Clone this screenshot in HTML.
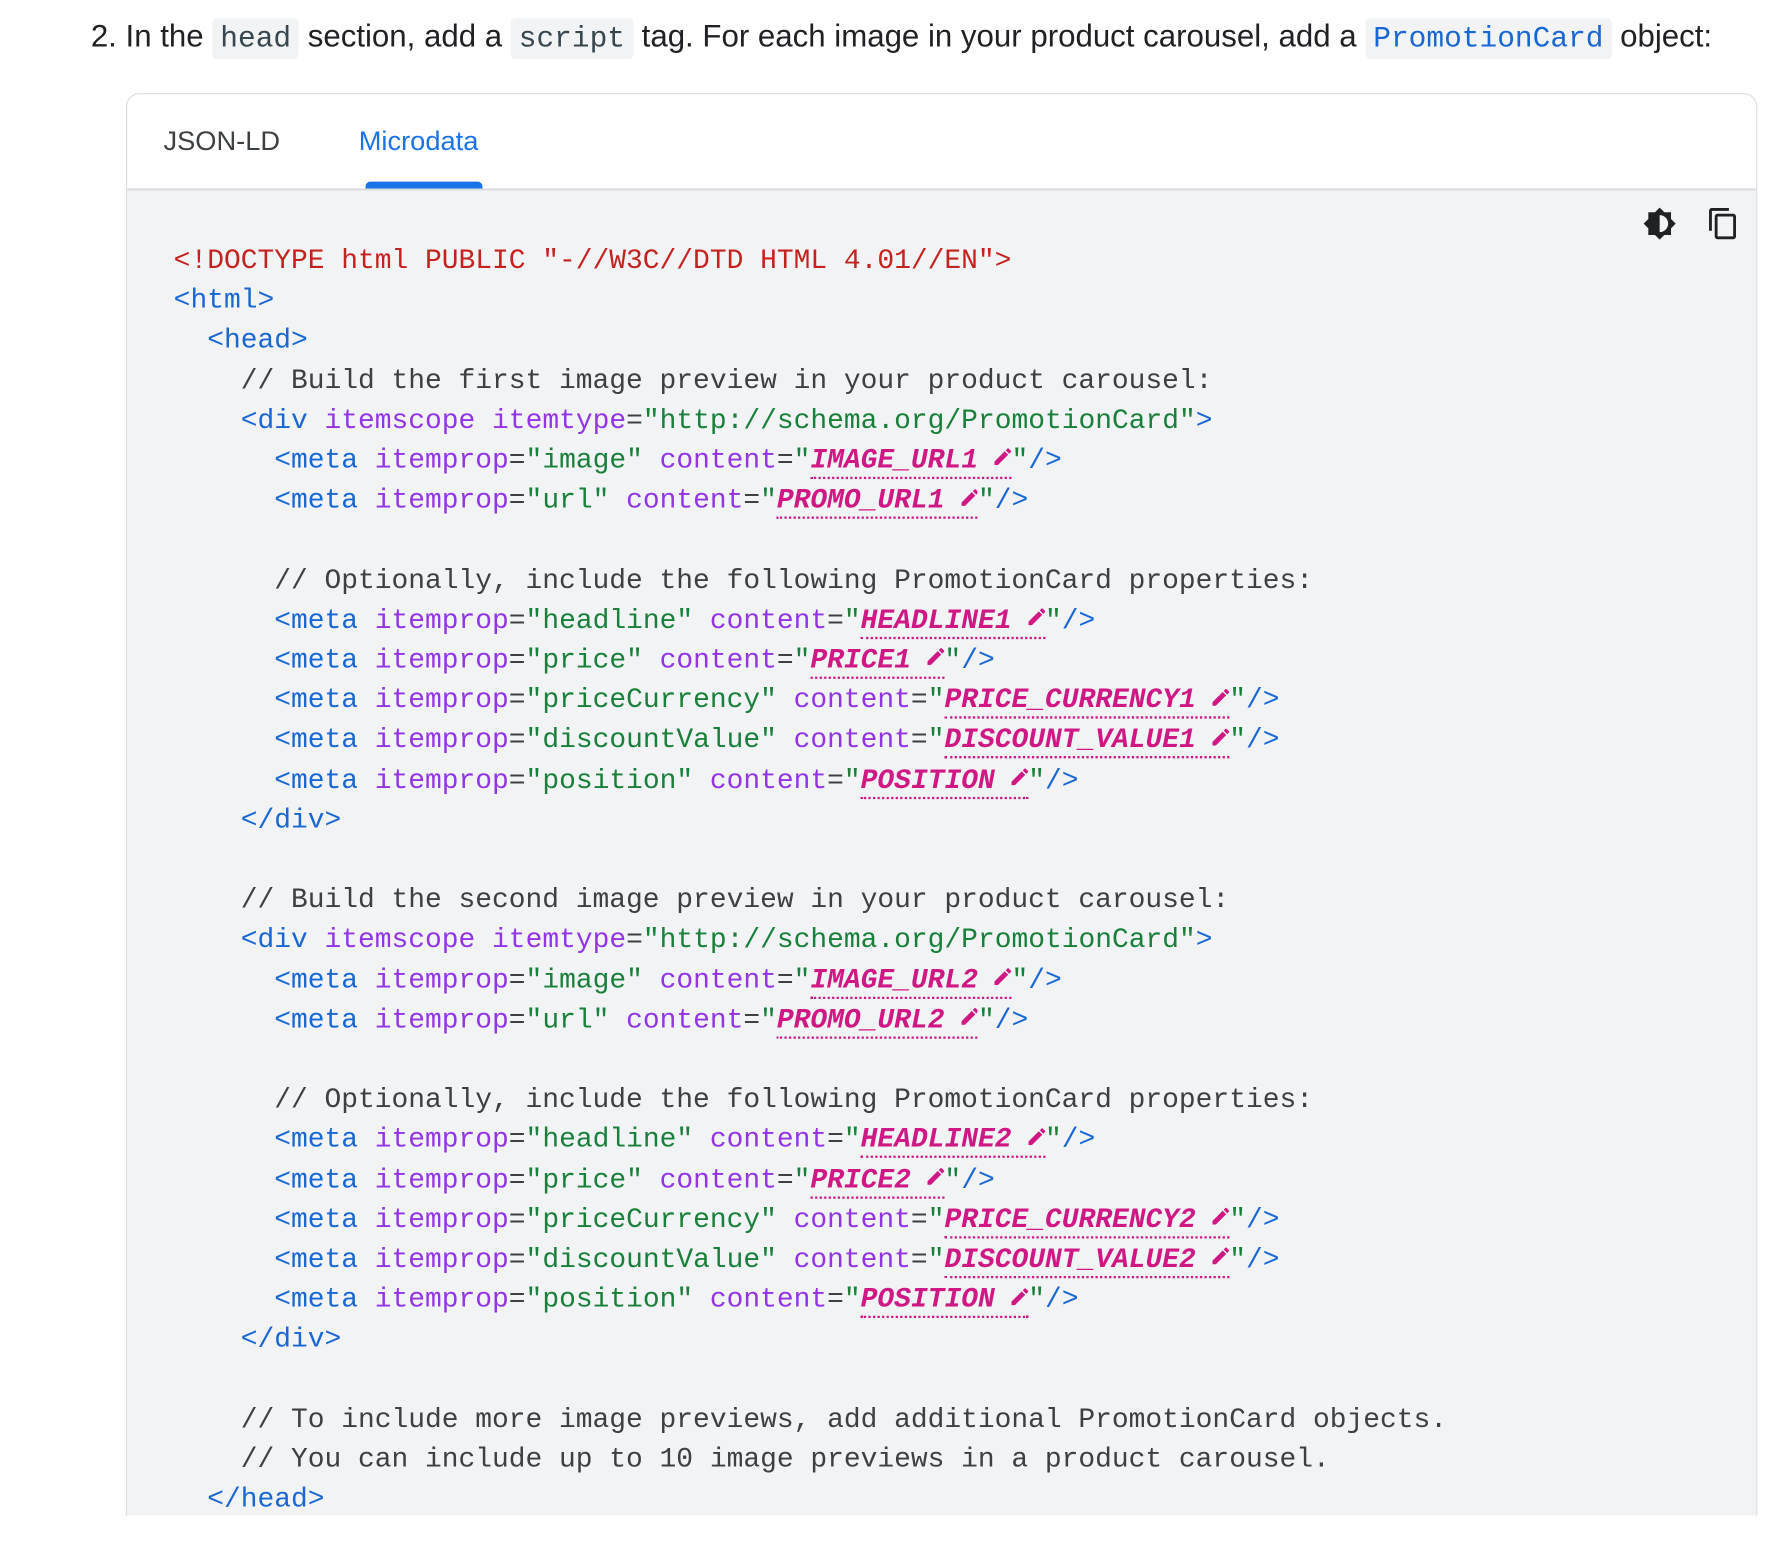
<!DOCTYPE html>
<html><head><meta charset="utf-8">
<style>
html,body{margin:0;padding:0;background:#fff;width:1780px;height:1528px;overflow:hidden}
#root{position:absolute;left:0;top:0;width:1568px;height:1346px;transform:scale(1.13520);transform-origin:0 0}
.h{position:absolute;left:80px;top:12px;font-family:"Liberation Sans",sans-serif;font-size:27.5px;color:#202124;white-space:nowrap;line-height:40px}
.c{font-family:"Liberation Mono",monospace;font-size:26px;background:#f1f3f4;color:#37474f;padding:3px 7px;border-radius:4px}
.cb{color:#1967d2}
.box{position:absolute;left:111px;top:82px;width:1435px;height:1290px;border:1.5px solid #dadce0;border-radius:12px;overflow:hidden;background:#fff}
.tabs{position:absolute;left:0;top:0;right:0;height:83px;border-bottom:2px solid #dadce0}
.tab{position:absolute;top:27px;font-family:"Liberation Sans",sans-serif;font-size:24px;line-height:30px}
.ul{position:absolute;left:210px;top:77px;width:103px;height:6px;background:#1a73e8;border-radius:4px 4px 0 0}
.code{position:absolute;left:0;top:85px;right:0;bottom:0;background:#f1f3f4}
pre{position:absolute;left:41px;top:45px;margin:0;font-family:"Liberation Mono",monospace;font-size:24.6px;line-height:35.2px;color:#3c4043}
.r{color:#c5221f}.t{color:#1967d2}.a{color:#9334e6}.s{color:#188038}
.p{color:#d01884;font-weight:bold;font-style:italic;border-bottom:2px dotted #d01884}
.pi{display:inline-block;width:1ch;height:1em;vertical-align:-3px}
.cover{position:absolute;left:0;top:1335px;width:1568px;height:40px;background:#fff}
</style></head><body><div id="root">
<div class="h">2. In the <span class="c">head</span> section, add a <span class="c">script</span> tag. For each image in your product carousel, add a <span class="c cb">PromotionCard</span> object:</div>
<div class="box">
<div class="tabs">
<div class="tab" style="left:32px;color:#3c4043">JSON-LD</div>
<div class="tab" style="left:204px;color:#1a73e8">Microdata</div>
<div class="ul"></div>
</div>
<div class="code">
<svg style="position:absolute;left:1335px;top:14px" width="30" height="30" viewBox="0 0 24 24"><path fill="#202124" d="M20 8.69V4h-4.69L12 .69 8.69 4H4v4.69L.69 12 4 15.31V20h4.69L12 23.31 15.31 20H20v-4.69L23.31 12 20 8.69zM12 18V6c3.310 0 6 2.69 6 6s-2.69 6-6 6z"/></svg>
<svg style="position:absolute;left:1391px;top:14px" width="30" height="30" viewBox="0 0 24 24"><path fill="#202124" d="M16 1H4c-1.1 0-2 .9-2 2v14h2V3h12V1zm3 4H8c-1.1 0-2 .9-2 2v14c0 1.1.9 2 2 2h11c1.1 0 2-.9 2-2V7c0-1.1-.9-2-2-2zm0 16H8V7h11v14z"/></svg>
<pre><span class="r">&lt;!DOCTYPE html PUBLIC "-//W3C//DTD HTML 4.01//EN"&gt;</span>
<span class="t">&lt;html&gt;</span>
  <span class="t">&lt;head&gt;</span>
    // Build the first image preview in your product carousel:
    <span class="t">&lt;div</span> <span class="a">itemscope</span> <span class="a">itemtype</span>=<span class="s">"http://schema.org/PromotionCard"</span><span class="t">&gt;</span>
      <span class="t">&lt;meta</span> <span class="a">itemprop</span>=<span class="s">"image"</span> <span class="a">content</span>=<span class="s">"</span><span class="p">IMAGE_URL1 <svg class="pi" viewBox="3 3 18 18"><path fill="#d01884" d="M3 17.25V21h3.75L17.81 9.94l-3.75-3.75L3 17.25zM20.71 7.04a1 1 0 000-1.41l-2.34-2.340a1 1 0 00-1.41 0l-1.83 1.83 3.75 3.75 1.83-1.83z"/></svg></span><span class="s">"</span><span class="t">/&gt;</span>
      <span class="t">&lt;meta</span> <span class="a">itemprop</span>=<span class="s">"url"</span> <span class="a">content</span>=<span class="s">"</span><span class="p">PROMO_URL1 <svg class="pi" viewBox="3 3 18 18"><path fill="#d01884" d="M3 17.25V21h3.75L17.81 9.94l-3.75-3.75L3 17.25zM20.71 7.04a1 1 0 000-1.41l-2.34-2.34a1 1 0 00-1.41 0l-1.83 1.83 3.75 3.75 1.83-1.83z"/></svg></span><span class="s">"</span><span class="t">/&gt;</span>

      // Optionally, include the following PromotionCard properties:
      <span class="t">&lt;meta</span> <span class="a">itemprop</span>=<span class="s">"headline"</span> <span class="a">content</span>=<span class="s">"</span><span class="p">HEADLINE1 <svg class="pi" viewBox="3 3 18 18"><path fill="#d01884" d="M3 17.25V21h3.75L17.81 9.94l-3.75-3.75L3 17.25zM20.71 7.04a1 1 0 000-1.41l-2.34-2.34a1 1 0 00-1.41 0l-1.83 1.83 3.75 3.75 1.83-1.83z"/></svg></span><span class="s">"</span><span class="t">/&gt;</span>
      <span class="t">&lt;meta</span> <span class="a">itemprop</span>=<span class="s">"price"</span> <span class="a">content</span>=<span class="s">"</span><span class="p">PRICE1 <svg class="pi" viewBox="3 3 18 18"><path fill="#d01884" d="M3 17.25V21h3.75L17.81 9.94l-3.75-3.75L3 17.25zM20.71 7.04a1 1 0 000-1.41l-2.34-2.34a1 1 0 00-1.41 0l-1.83 1.83 3.75 3.75 1.83-1.83z"/></svg></span><span class="s">"</span><span class="t">/&gt;</span>
      <span class="t">&lt;meta</span> <span class="a">itemprop</span>=<span class="s">"priceCurrency"</span> <span class="a">content</span>=<span class="s">"</span><span class="p">PRICE_CURRENCY1 <svg class="pi" viewBox="3 3 18 18"><path fill="#d01884" d="M3 17.25V21h3.75L17.81 9.94l-3.75-3.75L3 17.25zM20.71 7.04a1 1 0 000-1.41l-2.34-2.34a1 1 0 00-1.41 0l-1.83 1.83 3.75 3.75 1.83-1.83z"/></svg></span><span class="s">"</span><span class="t">/&gt;</span>
      <span class="t">&lt;meta</span> <span class="a">itemprop</span>=<span class="s">"discountValue"</span> <span class="a">content</span>=<span class="s">"</span><span class="p">DISCOUNT_VALUE1 <svg class="pi" viewBox="3 3 18 18"><path fill="#d01884" d="M3 17.25V21h3.75L17.81 9.94l-3.75-3.75L3 17.25zM20.71 7.04a1 1 0 000-1.41l-2.34-2.34a1 1 0 00-1.41 0l-1.83 1.83 3.75 3.75 1.83-1.83z"/></svg></span><span class="s">"</span><span class="t">/&gt;</span>
      <span class="t">&lt;meta</span> <span class="a">itemprop</span>=<span class="s">"position"</span> <span class="a">content</span>=<span class="s">"</span><span class="p">POSITION <svg class="pi" viewBox="3 3 18 18"><path fill="#d01884" d="M3 17.25V21h3.75L17.81 9.94l-3.75-3.75L3 17.25zM20.71 7.04a1 1 0 000-1.41l-2.34-2.34a1 1 0 00-1.41 0l-1.83 1.83 3.75 3.75 1.83-1.83z"/></svg></span><span class="s">"</span><span class="t">/&gt;</span>
    <span class="t">&lt;/div&gt;</span>

    // Build the second image preview in your product carousel:
    <span class="t">&lt;div</span> <span class="a">itemscope</span> <span class="a">itemtype</span>=<span class="s">"http://schema.org/PromotionCard"</span><span class="t">&gt;</span>
      <span class="t">&lt;meta</span> <span class="a">itemprop</span>=<span class="s">"image"</span> <span class="a">content</span>=<span class="s">"</span><span class="p">IMAGE_URL2 <svg class="pi" viewBox="3 3 18 18"><path fill="#d01884" d="M3 17.25V21h3.75L17.81 9.94l-3.75-3.75L3 17.25zM20.71 7.04a1 1 0 000-1.41l-2.34-2.34a1 1 0 00-1.41 0l-1.83 1.83 3.75 3.75 1.83-1.83z"/></svg></span><span class="s">"</span><span class="t">/&gt;</span>
      <span class="t">&lt;meta</span> <span class="a">itemprop</span>=<span class="s">"url"</span> <span class="a">content</span>=<span class="s">"</span><span class="p">PROMO_URL2 <svg class="pi" viewBox="3 3 18 18"><path fill="#d01884" d="M3 17.25V21h3.75L17.81 9.94l-3.75-3.75L3 17.25zM20.71 7.04a1 1 0 000-1.41l-2.34-2.34a1 1 0 00-1.41 0l-1.83 1.83 3.75 3.75 1.83-1.83z"/></svg></span><span class="s">"</span><span class="t">/&gt;</span>

      // Optionally, include the following PromotionCard properties:
      <span class="t">&lt;meta</span> <span class="a">itemprop</span>=<span class="s">"headline"</span> <span class="a">content</span>=<span class="s">"</span><span class="p">HEADLINE2 <svg class="pi" viewBox="3 3 18 18"><path fill="#d01884" d="M3 17.25V21h3.75L17.81 9.94l-3.75-3.75L3 17.25zM20.71 7.04a1 1 0 000-1.41l-2.34-2.34a1 1 0 00-1.41 0l-1.83 1.83 3.75 3.75 1.83-1.83z"/></svg></span><span class="s">"</span><span class="t">/&gt;</span>
      <span class="t">&lt;meta</span> <span class="a">itemprop</span>=<span class="s">"price"</span> <span class="a">content</span>=<span class="s">"</span><span class="p">PRICE2 <svg class="pi" viewBox="3 3 18 18"><path fill="#d01884" d="M3 17.25V21h3.75L17.81 9.94l-3.75-3.75L3 17.25zM20.71 7.04a1 1 0 000-1.41l-2.34-2.34a1 1 0 00-1.41 0l-1.83 1.83 3.75 3.75 1.83-1.83z"/></svg></span><span class="s">"</span><span class="t">/&gt;</span>
      <span class="t">&lt;meta</span> <span class="a">itemprop</span>=<span class="s">"priceCurrency"</span> <span class="a">content</span>=<span class="s">"</span><span class="p">PRICE_CURRENCY2 <svg class="pi" viewBox="3 3 18 18"><path fill="#d01884" d="M3 17.25V21h3.75L17.81 9.94l-3.75-3.75L3 17.25zM20.71 7.04a1 1 0 000-1.41l-2.34-2.34a1 1 0 00-1.41 0l-1.83 1.83 3.75 3.75 1.83-1.83z"/></svg></span><span class="s">"</span><span class="t">/&gt;</span>
      <span class="t">&lt;meta</span> <span class="a">itemprop</span>=<span class="s">"discountValue"</span> <span class="a">content</span>=<span class="s">"</span><span class="p">DISCOUNT_VALUE2 <svg class="pi" viewBox="3 3 18 18"><path fill="#d01884" d="M3 17.25V21h3.75L17.81 9.94l-3.75-3.75L3 17.25zM20.71 7.04a1 1 0 000-1.41l-2.34-2.34a1 1 0 00-1.41 0l-1.83 1.83 3.75 3.75 1.83-1.83z"/></svg></span><span class="s">"</span><span class="t">/&gt;</span>
      <span class="t">&lt;meta</span> <span class="a">itemprop</span>=<span class="s">"position"</span> <span class="a">content</span>=<span class="s">"</span><span class="p">POSITION <svg class="pi" viewBox="3 3 18 18"><path fill="#d01884" d="M3 17.25V21h3.75L17.81 9.94l-3.75-3.75L3 17.25zM20.71 7.04a1 1 0 000-1.41l-2.34-2.34a1 1 0 00-1.41 0l-1.83 1.83 3.75 3.75 1.83-1.83z"/></svg></span><span class="s">"</span><span class="t">/&gt;</span>
    <span class="t">&lt;/div&gt;</span>

    // To include more image previews, add additional PromotionCard objects.
    // You can include up to 10 image previews in a product carousel.
  <span class="t">&lt;/head&gt;</span></pre>
</div>
</div>
<div class="cover"></div>
</div></body></html>
